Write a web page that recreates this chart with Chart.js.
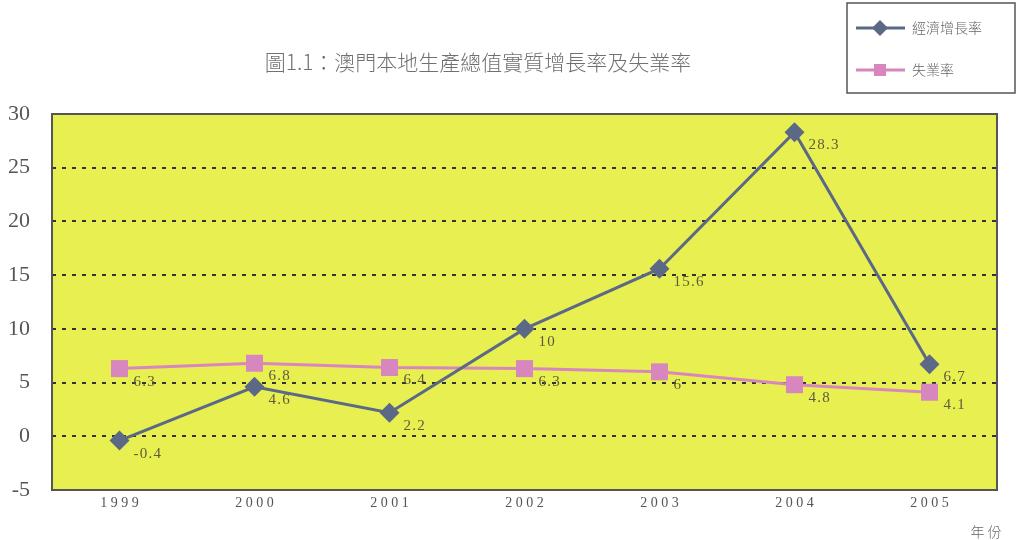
<!DOCTYPE html>
<html>
<head>
<meta charset="utf-8">
<script src="https://cdn.jsdelivr.net/npm/chart.js@4"></script>
<style>
  html, body { margin: 0; padding: 0; background: #fff; }
  #wrap { width: 1019px; height: 540px; position: relative; }
</style>
</head>
<body>
<div id="wrap"><canvas id="chart" width="1019" height="540"></canvas></div>
<script>
// 數據
const years = ["1999", "2000", "2001", "2002", "2003", "2004", "2005"];
const growthRate = [-0.4, 4.6, 2.2, 10, 15.6, 28.3, 6.7];     // 經濟增長率
const unemployment = [6.3, 6.8, 6.4, 6.3, 6, 4.8, 4.1];      // 失業率
const yTicks = [-5, 0, 5, 10, 15, 20, 25, 30];

const titleText = "圖1.1：澳門本地生產總值實質增長率及失業率";
const seriesNames = ["經濟增長率", "失業率"];

const BLUE = "#5b6886";
const PINK = "#d886be";
const SERIF = "'Liberation Serif', 'DejaVu Serif', serif";
const CJK = "'Noto Sans CJK TC', 'Noto Sans CJK SC', sans-serif";

// 背景、邊框、標題、圖例、數據標籤
const decor = {
  id: "decor",
  beforeDraw(chart) {
    const { ctx, chartArea: a } = chart;
    ctx.save();
    ctx.fillStyle = "#e8ef50";
    ctx.fillRect(a.left, a.top, a.right - a.left, a.bottom - a.top);
    ctx.restore();
  },
  afterDatasetsDraw(chart) {
    const { ctx, chartArea: a } = chart;
    ctx.save();
    // 邊框
    ctx.strokeStyle = "#555";
    ctx.lineWidth = 2;
    ctx.strokeRect(a.left, a.top, a.right - a.left, a.bottom - a.top);

    // 數據標籤
    ctx.font = "15px " + SERIF;
    ctx.fillStyle = "#5c5c3c";
    ctx.textAlign = "left";
    ctx.textBaseline = "middle";
    chart.data.datasets.forEach((ds, i) => {
      chart.getDatasetMeta(i).data.forEach((pt, j) => {
        const s = String(ds.data[j]).split("").join(String.fromCharCode(8202));
        ctx.fillText(s, pt.x + 14, pt.y + 13);
      });
    });

    // 標題
    ctx.font = "300 21px " + CJK;
    ctx.fillStyle = "#707070";
    ctx.textAlign = "center";
    ctx.fillText(titleText, 478, 62);

    // 圖例
    ctx.strokeStyle = "#555";
    ctx.lineWidth = 1.5;
    ctx.strokeRect(847, 3, 168, 90);
    const rows = [
      { name: seriesNames[0], color: BLUE, y: 28, shape: "diamond" },
      { name: seriesNames[1], color: PINK, y: 70, shape: "square" }
    ];
    rows.forEach(r => {
      ctx.strokeStyle = r.color;
      ctx.lineWidth = 3;
      ctx.beginPath();
      ctx.moveTo(856, r.y);
      ctx.lineTo(905, r.y);
      ctx.stroke();
      ctx.fillStyle = r.color;
      ctx.beginPath();
      if (r.shape === "diamond") {
        ctx.moveTo(880, r.y - 8);
        ctx.lineTo(888, r.y);
        ctx.lineTo(880, r.y + 8);
        ctx.lineTo(872, r.y);
        ctx.closePath();
      } else {
        ctx.rect(874, r.y - 6, 12, 12);
      }
      ctx.fill();
      ctx.font = "300 14px " + CJK;
      ctx.fillStyle = "#666";
      ctx.textAlign = "left";
      ctx.fillText(r.name, 912, r.y);
    });

    // 年份
    ctx.font = "300 14px " + CJK;
    ctx.fillStyle = "#666";
    ctx.textAlign = "center";
    ctx.fillText("年 份", 986, 532);
    ctx.restore();
  }
};

new Chart(document.getElementById("chart").getContext("2d"), {
  type: "line",
  data: {
    labels: years,
    datasets: [
      {
        label: seriesNames[0],
        data: growthRate,
        borderColor: BLUE,
        backgroundColor: BLUE,
        borderWidth: 3,
        pointStyle: "rectRot",
        pointRadius: 10,
        pointHoverRadius: 10,
        pointBorderWidth: 0,
        tension: 0
      },
      {
        label: seriesNames[1],
        data: unemployment,
        borderColor: PINK,
        backgroundColor: PINK,
        borderWidth: 3,
        pointStyle: "rect",
        pointRadius: 12,
        pointHoverRadius: 12,
        pointBorderWidth: 0,
        tension: 0
      }
    ]
  },
  options: {
    responsive: false,
    animation: false,
    layout: { padding: { left: 0, right: 22, top: 114, bottom: 0 } },
    plugins: {
      legend: { display: false },
      tooltip: { enabled: false },
      title: { display: false }
    },
    scales: {
      x: {
        offset: true,
        grid: { display: false },
        border: { display: false },
        ticks: {
          color: "#555",
          font: { family: SERIF, size: 14 },
          padding: -3,
          callback: function (v, i) { return years[i].split("").join(" "); }
        },
        afterFit(scale) { scale.height = 50; }
      },
      y: {
        min: -5,
        max: 30,
        afterBuildTicks(scale) { scale.ticks = yTicks.map(v => ({ value: v })); },
        grid: {
          color: ctx => (ctx.tick.value === 30 || ctx.tick.value === -5) ? "rgba(0,0,0,0)" : "#333",
          lineWidth: 2,
          drawTicks: false
        },
        border: { display: false, dash: [4, 6] },
        ticks: {
          color: "#555",
          font: { family: SERIF, size: 22 },
          padding: 22
        },
        afterFit(scale) { scale.width = 52; }
      }
    }
  },
  plugins: [decor]
});
</script>
</body>
</html>
